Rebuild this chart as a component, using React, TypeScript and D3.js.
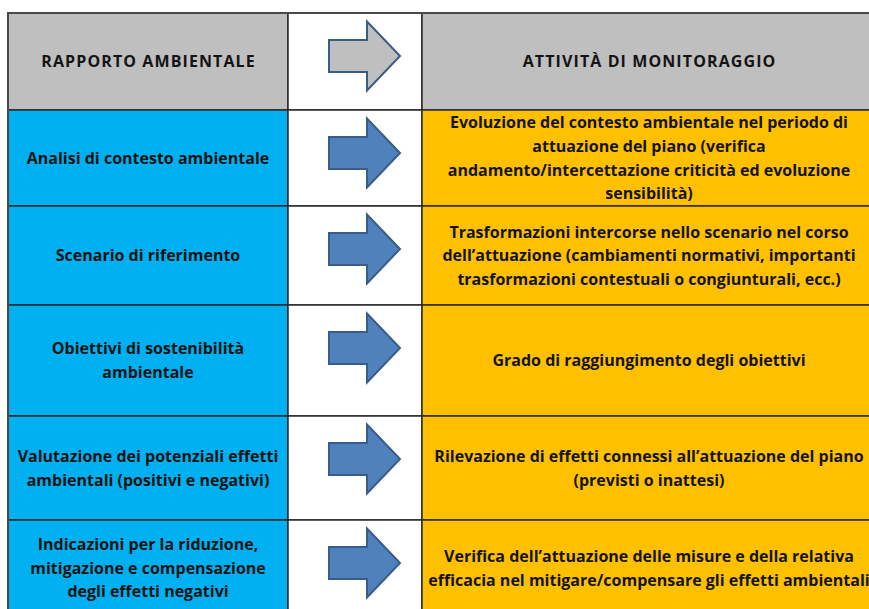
import React from "react";
import * as d3 from "d3";

// ── Table content ────────────────────────────────────────────────────────────
const HEADERS = ["RAPPORTO AMBIENTALE", "ATTIVITÀ DI MONITORAGGIO"];

const RAPPORTO: string[][] = [
  ["Analisi di contesto ambientale"],
  ["Scenario di riferimento"],
  ["Obiettivi di sostenibilità", "ambientale"],
  ["Valutazione dei potenziali effetti", "ambientali (positivi e negativi)"],
  ["Indicazioni per la riduzione,", "mitigazione e compensazione", "degli effetti negativi"],
];

const MONITORAGGIO: string[][] = [
  [
    "Evoluzione del contesto ambientale nel periodo di",
    "attuazione del piano (verifica",
    "andamento/intercettazione criticità ed evoluzione",
    "sensibilità)",
  ],
  [
    "Trasformazioni intercorse nello scenario nel corso",
    "dell’attuazione (cambiamenti normativi, importanti",
    "trasformazioni contestuali o congiunturali, ecc.)",
  ],
  ["Grado di raggiungimento degli obiettivi"],
  ["Rilevazione di effetti connessi all’attuazione del piano", "(previsti o inattesi)"],
  [
    "Verifica dell’attuazione delle misure e della relativa",
    "efficacia nel mitigare/compensare gli effetti ambientali",
  ],
];

// ── Layout (page geometry of the Word table) ─────────────────────────────────
const W = 869;
const H = 609;
const COL_EDGES = [8, 288, 422, 876];
const ROW_EDGES = [13, 110, 206, 305, 416, 520, 616];

const GREY = "#bfbfbf";
const BLUE = "#00b0f0";
const ORANGE = "#ffc000";
const ARROW_FILL = "#4f81bd";
const ARROW_STROKE = "#385d8a";
const INK = "#141414";

const FONT = "'Open Sans', 'Noto Sans', sans-serif";
const FONT_SIZE = 16;
const LINE_H = 23.6;

// arrow shape, relative to its tip
const arrowPts: [number, number][] = [
  [-71, -16], [-33, -16], [-33, -34.5], [0, 0], [-33, 34.5], [-33, 16], [-71, 16],
];
const arrowLine = d3.line<[number, number]>().curve(d3.curveLinearClosed);

function CellText({
  lines, cx, cy, spacing = 0,
}: { lines: string[]; cx: number; cy: number; spacing?: number }) {
  const y0 = cy - ((lines.length - 1) * LINE_H) / 2;
  return (
    <g>
      {lines.map((l, i) => (
        <text
          key={i}
          x={cx}
          y={y0 + i * LINE_H}
          dy="0.36em"
          textAnchor="middle"
          fontFamily={FONT}
          fontSize={FONT_SIZE}
          fontWeight={700}
          letterSpacing={spacing}
          fill={INK}
        >
          {l}
        </text>
      ))}
    </g>
  );
}

export default function App() {
  const x = d3.scaleOrdinal<number, number>().domain([0, 1, 2, 3]).range(COL_EDGES);
  const y = d3.scaleOrdinal<number, number>().domain(d3.range(ROW_EDGES.length)).range(ROW_EDGES);
  const fill = d3.scaleOrdinal<number, string>().domain([0, 1, 2]).range([BLUE, "#ffffff", ORANGE]);

  const rows = [
    { left: [HEADERS[0]], right: [HEADERS[1]], header: true },
    ...RAPPORTO.map((r, i) => ({ left: r, right: MONITORAGGIO[i], header: false })),
  ];

  return (
    <svg
      width={W}
      height={H}
      style={{ position: "absolute", left: 0, top: 0, background: "#fff" }}
    >
      {rows.map((row, ri) => {
        const top = y(ri);
        const bot = y(ri + 1);
        const tipX = 400;
        const tipY = top + 43;
        const sp = row.header ? 1.1 : 0;
        return (
          <g key={ri}>
            {[0, 1, 2].map((ci) => (
              <rect
                key={ci}
                x={x(ci)}
                y={top}
                width={x(ci + 1) - x(ci)}
                height={bot - top}
                fill={row.header && ci !== 1 ? GREY : fill(ci)}
                stroke="#2a2a2a"
                strokeWidth={1.5}
              />
            ))}
            <path
              d={arrowLine(arrowPts.map(([px, py]) => [tipX + px, tipY + py]) as [number, number][]) ?? ""}
              fill={row.header ? GREY : ARROW_FILL}
              stroke={ARROW_STROKE}
              strokeWidth={2}
              strokeLinejoin="miter"
            />
            <CellText lines={row.left} cx={(x(0) + x(1)) / 2 + sp / 2} cy={(top + bot) / 2} spacing={sp} />
            <CellText lines={row.right} cx={(x(2) + x(3)) / 2 + sp / 2} cy={(top + bot) / 2} spacing={sp} />
          </g>
        );
      })}
      <rect
        x={COL_EDGES[0]}
        y={ROW_EDGES[0]}
        width={COL_EDGES[3] - COL_EDGES[0]}
        height={ROW_EDGES[ROW_EDGES.length - 1] - ROW_EDGES[0]}
        fill="none"
        stroke="#4a4a4a"
        strokeWidth={2}
      />
    </svg>
  );
}
